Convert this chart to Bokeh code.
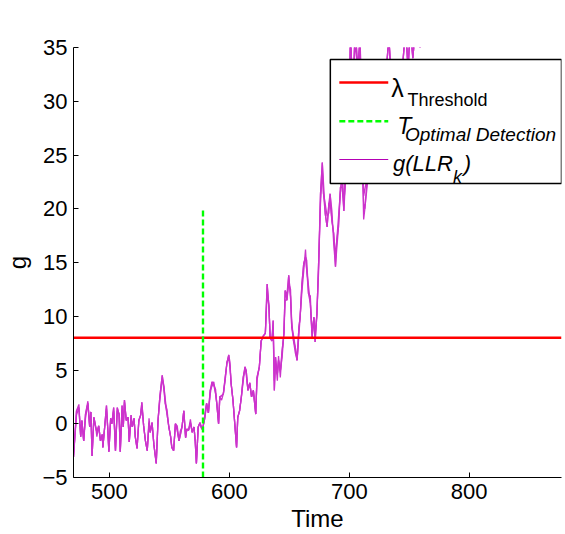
from bokeh.plotting import figure
from bokeh.models import Range1d, FixedTicker, BoxAnnotation, Label
from bokeh.embed import file_html
from bokeh.resources import INLINE

# ---------------- data ----------------
time = [470, 472.5, 474.5, 476, 477, 478.5, 480, 482, 483.5, 484.5, 485.5, 487, 488.5, 489.5, 491,
        492.5, 494, 494.5, 496, 497.5, 498.5, 499.5, 501, 502, 503.5, 505, 506.5, 508, 509, 510.5,
        511.5, 512.5, 514, 515.5, 516.5, 518, 519, 520.5, 521.5, 523, 524.5, 526, 527, 528.5, 530,
        531.5, 533, 534, 535.5, 537, 539, 540.5, 542, 544, 545.5, 546.5, 548, 549.5, 551, 552,
        553.5, 555, 556.5, 558, 559, 560.5, 562, 563.5, 564.5, 566, 567.5, 569, 570.5, 571.5, 572.5,
        574, 575.5, 577, 578, 579.5, 581, 582.5, 584, 585.5, 587, 588.5, 589.5, 591, 592, 593.5,
        595, 596.5, 598, 599.5, 600.5, 601.5, 603, 604.5, 606, 607, 608.5, 610, 611.5, 613, 614,
        615.5, 617, 618.5, 620, 622, 623, 625, 626.5, 628.5, 630, 631.5, 633, 634, 635.5, 636.5,
        637.5, 638.5, 640, 641, 642.5, 644, 645.5, 646.5, 648, 649.5, 651, 652, 653.5, 655, 656.5,
        658, 659, 660.5, 662, 663.5, 664.5, 666, 667.5, 669, 670.5, 671.5, 673, 674.5, 676, 677.5,
        678.5, 680, 681.5, 683, 684, 685.5, 687, 688.5, 689.5, 691, 692.5, 694, 695.5, 696.5, 698,
        700, 701, 703, 705, 707, 709, 711, 712, 713, 715, 717, 720, 724, 728, 731, 733, 735, 738,
        742, 745, 747, 749, 751, 753, 756, 759, 762, 765, 768, 772]

g_trace1 = [-3.1, 1.2, 1.5, -1.2, 0.3, -1.6, 0.9, 1.9, -0.3, 1.1, -3.0, 0.6, -0.3, -0.8, -0.2,
            -1.6, -1.0, -2.2, -0.3, 1.7, -0.3, -2.6, 0.5, 0.0, 1.5, -2.5, 1.5, 0.9, -2.6, 1.7,
            -0.3, 2.2, 0.3, 0.6, -1.7, 0.8, -0.3, 0.5, -1.2, -2.3, 0.3, 0.8, 2.0, -0.2, -1.6,
            -2.5, 0.1, -0.8, 0.1, -1.9, -3.7, 0.3, 2.5, 4.5, 3.4, 1.9, 0.9, -0.3, -1.2, -2.2,
            -2.5, 0.0, -0.6, -1.6, -1.1, -0.3, 1.2, -1.3, -0.5, -0.6, 0.1, -0.8, -0.3, -1.6, -3.7,
            -0.3, 0.1, -0.5, -0.3, 0.5, 1.9, 1.0, 3.1, 3.9, 3.6, 2.8, 1.9, 0.0, 2.5, 2.6,
            2.8, 4.3, 5.7, 6.4, 5.3, 3.7, 2.2, 0.0, -2.2, 0.6, 1.2, 2.5, 4.3, 5.3, 5.0,
            3.1, 3.8, 2.5, 3.1, 0.9, 4.3, 5.3, 7.7, 8.2, 8.4, 13.0, 10.9, 8.0, 7.7, 9.6,
            3.1, 6.2, 4.6, 5.9, 4.9, 6.8, 8.4, 12.4, 11.5, 13.8, 11.8, 9.0, 7.7, 7.1, 5.9,
            9.0, 9.9, 13.0, 14.9, 15.5, 14.3, 12.1, 11.2, 8.0, 9.9, 7.6, 10.2, 15.2, 21.4, 24.3,
            21.4, 19.5, 18.3, 20.5, 21.4, 18.9, 17.7, 14.6, 17.0, 18.3, 21.4, 23.2, 19.8, 22.0, 25.5,
            30.0, 36.0, 31.0, 37.0, 33.0, 36.0, 24.0, 19.0, 20.0, 23.0, 26.0, 28.0, 31.0, 30.0, 33.0, 36.0, 32.0, 30.0,
            31.0, 34.0, 37.0, 33.0, 37.0, 34.0, 38.0, 35.0, 38.0, 36.0, 40.0, 43.0]

# readings where the second and third traces visibly depart from the first
trace2_readings = {474.5: 1.8, 482: 2.1, 497.5: 1.4, 506.5: 1.2, 512.5: 2.0, 527: 1.7, 542: 2.2,
                   544: 4.2, 546.5: 2.3, 556.5: -0.2, 567.5: 0.4, 585.5: 3.5, 587: 3.9, 593.5: 2.2,
                   599.5: 6.1, 613: 5.0, 623: 4.0, 636.5: 9.0, 640: 4.0, 641: 6.3, 642.5: 4.3,
                   646.5: 11.5, 649.5: 13.0, 651: 12.5, 653.5: 8.2, 660.5: 12.3, 662: 14.2,
                   663.5: 16.2, 666: 12.8, 669: 8.5, 676: 20.5, 677.5: 23.5, 680: 20.4, 681.5: 19.3,
                   683: 19.6, 685.5: 19.8, 687: 16.8, 689.5: 16.2, 692.5: 22.0, 694: 22.0,
                   696.5: 23.2, 705: 35.5, 709: 34.5, 712: 20.5, 715: 22.2}
trace3_readings = {472.5: 0.8, 480: 0.5, 489.5: -1.2, 503.5: 1.2, 510.5: 1.3, 518: 0.5, 533: 0.5,
                   545.5: 3.0, 548: 1.3, 559: -0.7, 579.5: 0.8, 584: 2.7, 588.5: 3.2, 596.5: 4.0,
                   600.5: 5.7, 611.5: 3.9, 614: 4.6, 631.5: 12.2, 637.5: 4.0, 638.5: 5.4, 644: 6.2,
                   648: 12.0, 652: 9.6, 655: 6.6, 658: 8.3, 664.5: 15.2, 667.5: 11.9, 671.5: 8.3,
                   674.5: 14.4, 678.5: 22.4, 684: 20.6, 688.5: 15.5, 691: 19.2, 695.5: 20.6,
                   698: 24.6, 711: 26.0, 712: 21.2, 713: 21.8}

g_trace2 = [trace2_readings.get(t, v) for t, v in zip(time, g_trace1)]
g_trace3 = [trace3_readings.get(t, v) for t, v in zip(time, g_trace1)]

threshold = 8
t_detect = 578
detect_top = 20
x_ticks = [500, 600, 700, 800]
y_ticks = [-5, 0, 5, 10, 15, 20, 25, 30, 35]

# ---------------- figure ----------------
FONT = "Liberation Sans"
MAG = "#CC33CC"

p = figure(width=565, height=534, output_backend="svg", toolbar_location=None,
           x_range=Range1d(470, 877), y_range=Range1d(-5, 35),
           min_border_left=73, min_border_right=4, min_border_top=47, min_border_bottom=57)
p.outline_line_color = None
p.grid.visible = False
p.background_fill_color = "white"
p.border_fill_color = "white"

for ax in (p.xaxis[0], p.yaxis[0]):
    ax.axis_line_color = "black"
    ax.axis_line_width = 1
    ax.major_tick_in = 5
    ax.major_tick_out = 0
    ax.minor_tick_line_color = None
    ax.major_tick_line_color = "black"
    ax.major_label_text_font = FONT
    ax.major_label_text_font_size = "22px"
    ax.major_label_text_color = "black"
    ax.axis_label_text_font = FONT
    ax.axis_label_text_font_size = "24px"
    ax.axis_label_text_font_style = "normal"
    ax.axis_label_text_color = "black"

p.xaxis.ticker = FixedTicker(ticks=x_ticks)
p.yaxis.ticker = FixedTicker(ticks=y_ticks)
p.xaxis.axis_label = "Time"
p.yaxis.axis_label = "g"
p.xaxis.major_label_standoff = 6
p.yaxis.major_label_standoff = 6
p.xaxis.axis_label_standoff = 3
p.yaxis.axis_label_standoff = 8

# traces
for g in (g_trace1, g_trace2, g_trace3):
    p.line(time, g, line_color=MAG, line_width=1.3)

# threshold and detection time
p.line([470, 877], [threshold, threshold], line_color="red", line_width=2.6)
p.line([t_detect, t_detect], [-5, detect_top], line_color="#00FF00", line_width=2.4,
       line_dash="6 3")

# ---------------- legend (drawn by hand for the sub-scripted labels) ----------------
box = BoxAnnotation(left=684.2, right=877, top=33.88, bottom=22.35, fill_color="white",
                    fill_alpha=1.0, line_color="black", line_width=1.5, line_alpha=1.0,
                    level="annotation")
p.add_layout(box)
p.segment(x0=[691.7], y0=[31.74], x1=[732.5], y1=[31.74], line_color="red",
          line_width=2.4, level="overlay")
p.segment(x0=[691.7], y0=[28.14], x1=[732.5], y1=[28.14], line_color="#00FF00",
          line_width=2.4, line_dash="6 3", level="overlay")
p.segment(x0=[691.7], y0=[24.58], x1=[732.5], y1=[24.58], line_color="#B400B4",
          line_width=1.0, level="overlay")


def lab(x, y, text, size, style="normal"):
    p.add_layout(Label(x=x, y=y, text=text, text_font=FONT, text_font_size=size,
                       text_font_style=style, text_color="black",
                       text_baseline="alphabetic", text_align="left", level="overlay"))


lab(735.0, 31.2, "λ", "25px")
lab(748.5, 30.1, "Threshold", "18px")
lab(740.0, 27.7, "T", "23px", "italic")
lab(746.5, 26.9, "Optimal Detection", "19px", "italic")
lab(736.5, 24.2, "g(LLR", "22px", "italic")
lab(786.5, 23.0, "k", "18px", "italic")
lab(795.5, 24.2, ")", "22px", "italic")

open("out.html", "w").write(file_html(p, INLINE))
